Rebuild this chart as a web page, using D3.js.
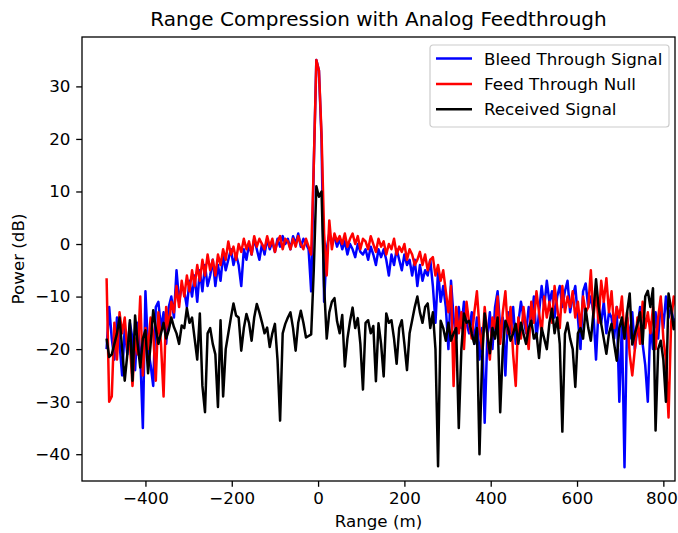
<!DOCTYPE html>
<html>
<head>
<meta charset="utf-8">
<script src="https://cdn.jsdelivr.net/npm/d3@7"></script>
<style>
    body { margin: 0; background: white; }
    text { font-family: "DejaVu Sans", sans-serif; fill: black; }
</style>
</head>
<body>
<div id="chart"></div>
<script>
// range samples: start at -490 m, one every 6 m
const rangeStart = -490;
const rangeStep = 6;

const bleedThrough = [
    -20, -12, -18, -22, -14, -19, -25, -16, -21, -15,
    -18, -24, -15, -21, -35, -9, -20, -23, -27, -12,
    -11, -16, -13, -19, -12, -10, -14, -5, -11, -8,
    -9, -12, -7, -10, -6, -11, -5, -9, -4, -8,
    -6, -3, -8, -4, -7, -2, -5, -3, -1, -4,
    -2, -4, -8, -1, -3, 0, -2, 1, -1, -3,
    0, -2, 1, -1, 0.5, -1.5, 1, -0.5, 1.5, 0,
    1, -1, 1.5, 0, 2, -0.5, 1, 0, -1, -9,
    15, 35, 33, 20, -11, -1, 2, 0, 1.5, -0.5,
    1, -1, 0.5, -2, 0, -1, -2.5, 0, -1.5, -2,
    -1, -3, -0.5, -2, -4, -1, -2.5, -1, -3, -6,
    -2, -4, -1, -3, -5, -2, -4, -3, -6, -3,
    -8, -4, -7, -5, -6, -3, -8, -15, -5, -11,
    -8, -12, -20, -7, -14, -18, -12, -16, -11, -15,
    -17, -13, -19, -14, -22, -16, -34, -18, -13, -20,
    -12, -9, -16, -14, -25, -13, -17, -12, -19, -15,
    -11, -14, -17, -12, -15, -10, -18, -13, -8, -12,
    -7, -11, -9, -14, -10, -8, -12, -9, -7, -13,
    -10, -8, -14, -20, -9, -7.5, -12, -10, -13, -22,
    -12, -15, -11, -17, -13, -14, -18, -12, -30, -15,
    -42.5, -14, -18, -13, -20, -16, -12, -19, -23, -30,
    -15, -20, -13, -18, -11, -16, -10, -14, -12, -15,
    -14
];

const feedThroughNull = [
    -6.5, -30, -29, -15, -22, -13, -17, -14, -20, -19,
    -27, -18, -21, -10, -25, -16, -20, -14, -17, -26,
    -13, -19, -29, -12, -16, -11, -13, -8, -12, -7,
    -10, -6, -9, -5, -8, -4, -7, -3, -6, -2,
    -5, -3, -6, -2, -4, -1, -3, 0.5, -2, -0.5,
    -3, 0, -1.5, 1, -1, 0.5, -2, 1.5, -0.5, 1,
    0, -1, 1.5, -0.5, 1, -1.5, 0.5, 1.5, -1, 1,
    0.5, -1, 1, -0.5, 1.5, 0, -1, 1, -0.5, -2,
    15, 35, 33, 21, 2, -6, 4.5, -1, 2, 0.5,
    1.5, 0, 2, -0.5, 1, 2, 0, 1.5, -1, 1,
    0.5, -1, 1.5, 0, -1.5, 1, -0.5, 0.5, -2, 0,
    -1, 1, -2, -0.5, -1.5, 0, -3, -1, -2, -4,
    -3, -1.5, -4, -2, -5, -3, -2.5, -6, -4, -7,
    -5, -9, -13, -8, -27, -12, -17, -13, -20, -11,
    -15, -18, -13, -9, -16, -20, -12, -17, -22, -14,
    -16, -10, -19, -13, -9, -17, -12, -21, -27, -14,
    -18, -12, -16, -20, -11, -15, -9, -13, -17, -10,
    -14, -11, -15, -8, -12, -16, -8, -13, -10, -12,
    -9, -14, -11, -16, -10, -13, -12, -5, -14, -9,
    -15, -7, -11, -6.5, -13, -9, -16, -12, -14, -10,
    -18, -13, -21, -25, -20, -14, -19, -11, -16, -13,
    -17, -12, -20, -14, -10, -18, -22, -33, -15, -10,
    -12
];

const receivedSignal = [
    -18, -21.5, -21, -19, -17, -14, -20, -26, -21, -14.5,
    -26, -13.6, -19, -23.5, -18, -16.4, -24.6, -19, -12.6, -16,
    -19, -17, -15, -18, -16.4, -14, -15.8, -17, -19, -15.5,
    -16, -12.2, -15, -14, -18, -22, -13.2, -27, -32, -17,
    -16, -19, -21, -31, -14.5, -29, -20, -17, -14, -11.3,
    -13.6, -14, -20.3, -16, -13.3, -15, -18.4, -14, -11.4, -13,
    -14.9, -17, -15.9, -19.6, -17, -15.2, -22, -33.6, -17, -15.2,
    -14, -13, -16, -20.3, -15, -12.7, -15, -17.8, -17.5, -17.2,
    -5, 11, 9, 10, -8, -18, -13, -11, -10.3, -14.7,
    -17, -13.5, -23.3, -18, -14.7, -12.1, -16, -14.1, -19, -27.7,
    -15, -14.5, -17, -15.6, -26.1, -15.1, -19, -25.2, -13.2, -15,
    -14.5, -18, -22.8, -16, -14.5, -19, -24, -17, -14.5, -12,
    -10, -13, -15, -12, -11.3, -16, -13, -20, -42.3, -14.6,
    -16, -18.4, -15, -18.4, -17, -16, -35, -20, -13.2, -15,
    -14.6, -17, -19, -16, -40, -22, -13.2, -17, -20.8, -16,
    -18, -14, -32, -20, -14.6, -16, -18.4, -17, -15.2, -19,
    -15, -17.1, -19, -16, -14.6, -18, -17, -21.7, -16, -18,
    -20, -15, -12.3, -17, -14, -19, -35.7, -17.1, -15, -18,
    -20, -27.2, -17, -16, -18, -12.3, -16, -18.4, -13, -6.7,
    -12, -15.2, -18, -20.9, -17, -15.2, -19, -22.2, -16, -14,
    -18, -13, -9.4, -19.1, -17, -15.2, -13, -19, -10, -8.9,
    -12, -8.4, -35.5, -20, -18.4, -22, -30, -9.4, -12.3, -16.2,
    -14
];

const seriesNames = ["Bleed Through Signal", "Feed Through Null", "Received Signal"];
const seriesColors = ["#0000ff", "#ff0000", "#000000"];

const xTicks = [-400, -200, 0, 200, 400, 600, 800];
const yTicks = [-40, -30, -20, -10, 0, 10, 20, 30];

class LineChart {
    constructor(parentElement, series) {
        this.parentElement = parentElement;
        this.series = series;

        this.width = 678;
        this.height = 533;
        this.margin = {top: 37, right: 3, bottom: 52, left: 82};

        this.initVis();
    }

    initVis() {
        let vis = this;

        vis.innerW = vis.width - vis.margin.left - vis.margin.right;
        vis.innerH = vis.height - vis.margin.top - vis.margin.bottom;

        vis.svg = d3.select(vis.parentElement)
            .append("svg")
            .attr("width", vis.width)
            .attr("height", vis.height);

        vis.g = vis.svg.append("g")
            .attr("transform", `translate(${vis.margin.left},${vis.margin.top})`);

        vis.x = d3.scaleLinear().domain([-547, 827]).range([0, vis.innerW]);
        vis.y = d3.scaleLinear().domain([-45.1, 39.4]).range([vis.innerH, 0]);

        vis.svg.append("defs").append("clipPath")
            .attr("id", "plot-clip")
            .append("rect")
            .attr("width", vis.innerW)
            .attr("height", vis.innerH);

        vis.line = d3.line()
            .x((d, i) => vis.x(rangeStart + i * rangeStep))
            .y(d => vis.y(d));

        vis.g.append("g")
            .attr("clip-path", "url(#plot-clip)")
            .selectAll("path")
            .data(vis.series)
            .enter().append("path")
            .attr("d", d => vis.line(d.values))
            .attr("fill", "none")
            .attr("stroke", d => d.color)
            .attr("stroke-width", 2.5)
            .attr("stroke-linejoin", "round");

        // axes
        let xAxis = d3.axisBottom(vis.x).tickValues(xTicks).tickSize(5.8).tickPadding(5.5);
        let yAxis = d3.axisLeft(vis.y).tickValues(yTicks).tickSize(5.8).tickPadding(5.8);

        vis.g.append("g")
            .attr("class", "x-axis")
            .attr("transform", `translate(0,${vis.innerH})`)
            .call(xAxis)
            .call(g => g.select(".domain").remove());

        vis.g.append("g")
            .call(yAxis)
            .call(g => g.select(".domain").remove());

        vis.g.selectAll(".tick text")
            .style("font-size", "16.7px")
            .style("font-family", "DejaVu Sans, sans-serif")
            .attr("fill", "black");
        vis.g.selectAll(".tick line").attr("stroke", "black").attr("stroke-width", 1.3);

        // last label sits right at the figure edge, pull it in a little
        vis.g.selectAll(".x-axis .tick text")
            .filter(d => d === 800)
            .attr("dx", -2);

        vis.g.append("rect")
            .attr("width", vis.innerW)
            .attr("height", vis.innerH)
            .attr("fill", "none")
            .attr("stroke", "black")
            .attr("stroke-width", 1.3);

        // title and labels
        vis.svg.append("text")
            .attr("x", vis.margin.left + vis.innerW / 2)
            .attr("y", 26)
            .attr("text-anchor", "middle")
            .style("font-size", "20px")
            .text("Range Compression with Analog Feedthrough");

        vis.svg.append("text")
            .attr("x", vis.margin.left + vis.innerW / 2)
            .attr("y", 527)
            .attr("text-anchor", "middle")
            .style("font-size", "16.7px")
            .text("Range (m)");

        vis.svg.append("text")
            .attr("transform", `translate(24,${vis.margin.top + vis.innerH / 2}) rotate(-90)`)
            .attr("text-anchor", "middle")
            .style("font-size", "16.7px")
            .text("Power (dB)");

        // legend
        let legend = vis.svg.append("g").attr("transform", "translate(430,45)");
        legend.append("rect")
            .attr("width", 239)
            .attr("height", 82)
            .attr("rx", 3)
            .attr("fill", "white")
            .attr("fill-opacity", 0.8)
            .attr("stroke", "#cccccc")
            .attr("stroke-width", 1.2);

        let items = legend.selectAll(".item")
            .data(vis.series)
            .enter().append("g")
            .attr("transform", (d, i) => `translate(0,${13.5 + i * 25.4})`);

        items.append("line")
            .attr("x1", 6).attr("x2", 42)
            .attr("stroke", d => d.color)
            .attr("stroke-width", 2.5);

        items.append("text")
            .attr("x", 54)
            .attr("y", 6)
            .style("font-size", "16.7px")
            .text(d => d.name);
    }
}

let seriesData = [bleedThrough, feedThroughNull, receivedSignal].map((values, i) => ({
    name: seriesNames[i],
    color: seriesColors[i],
    values: values
}));

new LineChart("#chart", seriesData);
</script>
</body>
</html>
